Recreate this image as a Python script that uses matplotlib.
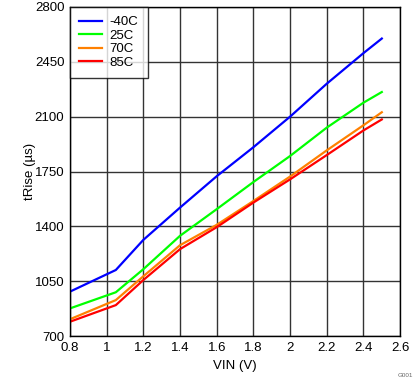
import numpy as np
import matplotlib
matplotlib.use("Agg")
import matplotlib.pyplot as plt

plt.rcParams["font.family"] = ["Liberation Sans", "DejaVu Sans"]

vin = [0.8, 1.05, 1.2, 1.4, 1.6, 1.8, 2.0, 2.2, 2.4, 2.5]
t_m40 = [984, 1122, 1314, 1520, 1720, 1905, 2100, 2310, 2505, 2598]
t_25 = [877, 980, 1127, 1340, 1510, 1683, 1849, 2030, 2189, 2257]
t_70 = [808, 930, 1082, 1280, 1410, 1562, 1718, 1885, 2045, 2128]
t_85 = [792, 898, 1058, 1255, 1395, 1552, 1700, 1855, 2012, 2082]
labels = ["-40C", "25C", "70C", "85C"]
colors = ["#0000FF", "#00FF00", "#FF8000", "#FF0000"]

fig = plt.figure(figsize=(4.19, 3.82), dpi=100)
ax = fig.add_axes([0.167, 0.12, 0.788, 0.862])

for y, lab, c in zip([t_m40, t_25, t_70, t_85], labels, colors):
    ax.plot(vin, y, color=c, lw=1.6, label=lab)

ax.set_xlim(0.8, 2.6)
ax.set_ylim(700, 2800)
ax.set_xticks(np.arange(0.8, 2.61, 0.2))
ax.set_xticklabels(["0.8", "1", "1.2", "1.4", "1.6", "1.8", "2", "2.2", "2.4", "2.6"])
ax.set_yticks([700, 1050, 1400, 1750, 2100, 2450, 2800])
ax.tick_params(length=0, labelsize=9.5, pad=4)
ax.grid(True, color="#333333", lw=1)
for s in ax.spines.values():
    s.set_color("black")
    s.set_linewidth(1)

ax.set_xlabel("VIN (V)", fontsize=9.5)
ax.set_ylabel("tRise (µs)", fontsize=9.5)
ax.xaxis.set_label_coords(0.5, -0.072)
ax.yaxis.set_label_coords(-0.103, 0.5)

leg = ax.legend(loc="upper left", fontsize=9.5, frameon=True, fancybox=False,
                borderaxespad=0, handlelength=1.7, labelspacing=0.1,
                borderpad=0.7, handletextpad=0.6)
leg.get_frame().set_edgecolor("black")
leg.get_frame().set_linewidth(1)

fig.text(0.985, 0.01, "G001", fontsize=4.5, color="#666666", ha="right", va="bottom")

fig.savefig("out.png", dpi=100)
